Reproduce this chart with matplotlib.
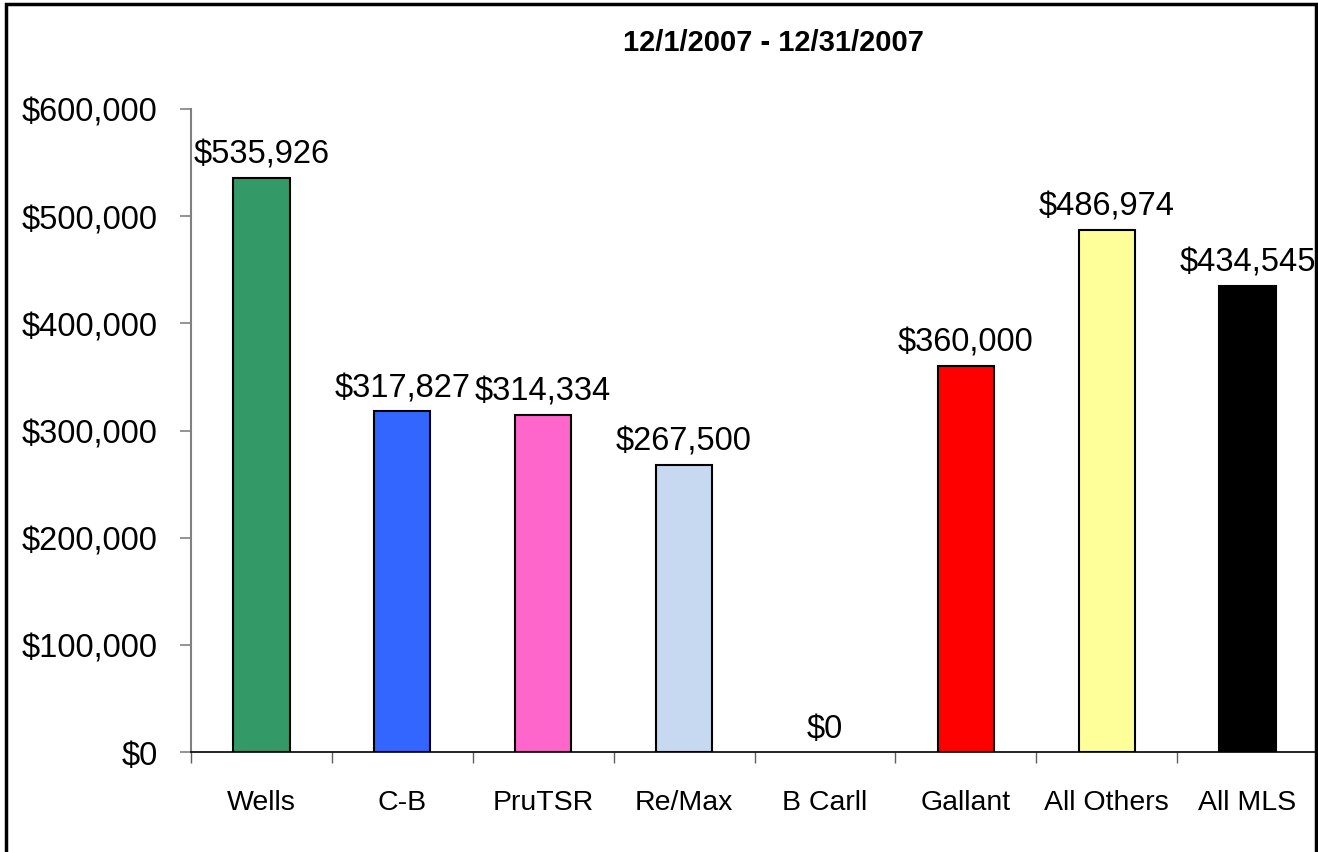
import matplotlib
matplotlib.use('Agg')
import matplotlib.pyplot as plt
from matplotlib.patches import Rectangle
from matplotlib.ticker import FuncFormatter, FixedLocator
import numpy as np

# 数据
categories = ['Wells', 'C-B', 'PruTSR', 'Re/Max', 'B Carll', 'Gallant', 'All Others', 'All MLS']
values = [535926, 317827, 314334, 267500, 0, 360000, 486974, 434545]
colors = ['#339966', '#3366FF', '#FF66CC', '#C6D9F0', '#FFFFFF', '#FF0000', '#FFFF99', '#000000']
title = '12/1/2007 - 12/31/2007'

plt.rcParams['font.family'] = ['Liberation Sans', 'DejaVu Sans']

fig = plt.figure(figsize=(13.18, 8.53), dpi=100)
ax = fig.add_axes([191 / 1318, 100 / 853, 1 - 191 / 1318, 643 / 853])

x = np.arange(len(categories))
bars = ax.bar(x, values, width=0.4, color=colors, edgecolor='black', linewidth=1.5)
# B Carll = 0, 不画柱
bars[4].set_visible(False)

for xi, v in zip(x, values):
    ax.annotate(f'${v:,.0f}', (xi, v), xytext=(0, 6), textcoords='offset points',
                ha='center', va='bottom', fontsize=23.5)

ax.set_xlim(-0.5, len(categories) - 0.5)
ax.set_ylim(0, 600000)
ax.set_yticks(np.arange(0, 600001, 100000))
ax.yaxis.set_major_formatter(FuncFormatter(lambda v, p: f'${v:,.0f}'))
ax.tick_params(axis='y', labelsize=23.5, length=8, width=1.2, color='#808080', direction='out', pad=16)

# x 轴: 刻度在类别之间, 标签居中
ax.xaxis.set_major_locator(FixedLocator(np.arange(-0.5, len(categories), 1.0)))
ax.xaxis.set_major_formatter(FuncFormatter(lambda v, p: ''))
ax.xaxis.set_minor_locator(FixedLocator(x))
ax.set_xticklabels(categories, minor=True)
ax.tick_params(axis='x', which='major', length=8, width=1.0, color='#606060', direction='out')
ax.tick_params(axis='x', which='minor', length=0, pad=27, labelsize=20.5)

ax.spines['top'].set_visible(False)
ax.spines['right'].set_visible(False)
ax.spines['left'].set_color('#808080')
ax.spines['left'].set_linewidth(1.5)
ax.spines['bottom'].set_color('black')
ax.spines['bottom'].set_linewidth(1.2)

fig.text(773 / 1318, 1 - 43 / 853, title, ha='center', va='center', fontsize=21, fontweight='bold')

# 图外边框
border = Rectangle((6 / 1318, -0.02), 1310 / 1318, 1.02 - 5 / 853, transform=fig.transFigure,
                   fill=False, edgecolor='black', linewidth=2.5, clip_on=False)
fig.patches.append(border)

fig.savefig('out.png', dpi=100)
